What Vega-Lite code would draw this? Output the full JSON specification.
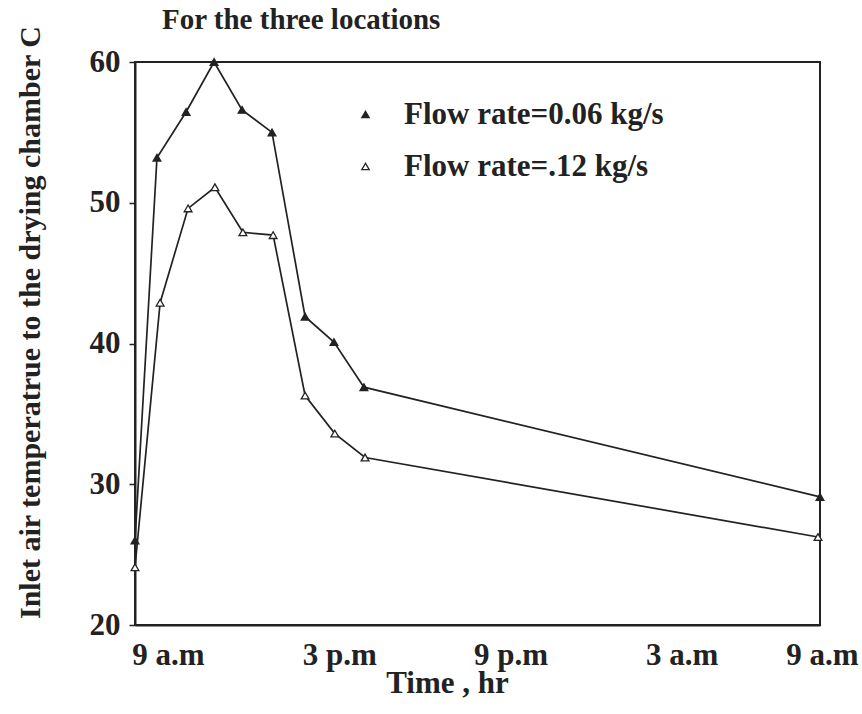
{
  "$schema": "https://vega.github.io/schema/vega-lite/v6.json",
  "autosize": {"type": "none"},
  "padding": {"left": 135, "top": 62, "right": 42, "bottom": 89},
  "width": 685,
  "height": 563,
  "background": "white",
  "title": {
    "text": "For the three locations",
    "anchor": "start",
    "frame": "group",
    "dx": 27,
    "dy": 37,
    "offset": 0,
    "baseline": "alphabetic",
    "font": "Liberation Serif",
    "fontSize": 29,
    "fontWeight": "bold",
    "color": "#222"
  },
  "data": {
    "values": [
      {"series": "Flow rate=0.06 kg/s", "hour": 0, "temp": 26.0},
      {"series": "Flow rate=0.06 kg/s", "hour": 0.77, "temp": 53.2},
      {"series": "Flow rate=0.06 kg/s", "hour": 1.79, "temp": 56.45},
      {"series": "Flow rate=0.06 kg/s", "hour": 2.77, "temp": 60.0},
      {"series": "Flow rate=0.06 kg/s", "hour": 3.75, "temp": 56.6},
      {"series": "Flow rate=0.06 kg/s", "hour": 4.8, "temp": 55.0},
      {"series": "Flow rate=0.06 kg/s", "hour": 5.96, "temp": 41.9},
      {"series": "Flow rate=0.06 kg/s", "hour": 6.97, "temp": 40.1},
      {"series": "Flow rate=0.06 kg/s", "hour": 8.02, "temp": 36.9},
      {"series": "Flow rate=0.06 kg/s", "hour": 24, "temp": 29.1},
      {"series": "Flow rate=.12 kg/s", "hour": 0, "temp": 24.1},
      {"series": "Flow rate=.12 kg/s", "hour": 0.88, "temp": 42.9},
      {"series": "Flow rate=.12 kg/s", "hour": 1.86, "temp": 49.6},
      {"series": "Flow rate=.12 kg/s", "hour": 2.8, "temp": 51.1},
      {"series": "Flow rate=.12 kg/s", "hour": 3.78, "temp": 47.9},
      {"series": "Flow rate=.12 kg/s", "hour": 4.84, "temp": 47.7},
      {"series": "Flow rate=.12 kg/s", "hour": 5.96, "temp": 36.3},
      {"series": "Flow rate=.12 kg/s", "hour": 7.0, "temp": 33.6},
      {"series": "Flow rate=.12 kg/s", "hour": 8.06, "temp": 31.9},
      {"series": "Flow rate=.12 kg/s", "hour": 23.93, "temp": 26.25}
    ]
  },
  "encoding": {
    "x": {
      "field": "hour",
      "type": "quantitative",
      "scale": {"domain": [0, 24], "nice": false, "zero": false},
      "axis": {
        "title": "Time , hr",
        "values": [0, 6, 12, 18, 24],
        "labelExpr": "datum.value == 0 ? '9 a.m' : datum.value == 6 ? '3 p.m' : datum.value == 12 ? '9 p.m' : datum.value == 18 ? '3 a.m' : '9 a.m'",
        "grid": false,
        "ticks": false,
        "tickSize": 0,
        "domainColor": "#222",
        "domainWidth": 2,
        "labelFont": "Liberation Serif",
        "labelFontSize": 31,
        "labelFontWeight": "bold",
        "labelColor": "#222",
        "labelPadding": 15,
        "labelBaseline": "top",
        "labelFlush": false,
        "labelOverlap": false,
        "labelOffset": {"condition": {"test": "datum.value < 24", "value": 33}, "value": 2},
        "titleFont": "Liberation Serif",
        "titleFontSize": 31,
        "titleFontWeight": "bold",
        "titleColor": "#222",
        "titleX": 312,
        "titleY": 58,
        "titleBaseline": "middle",
        "titleAlign": "center"
      }
    },
    "y": {
      "field": "temp",
      "type": "quantitative",
      "scale": {"domain": [20, 60], "nice": false, "zero": false},
      "axis": {
        "title": "Inlet air temperatrue to the drying chamber  C",
        "values": [20, 30, 40, 50, 60],
        "grid": false,
        "tickSize": 6,
        "tickColor": "#222",
        "tickWidth": 1.5,
        "domainColor": "#222",
        "domainWidth": 2,
        "labelFont": "Liberation Serif",
        "labelFontSize": 31,
        "labelFontWeight": "bold",
        "labelColor": "#222",
        "labelPadding": 9,
        "labelFlush": false,
        "labelOverlap": false,
        "titleFont": "Liberation Serif",
        "titleFontSize": 30,
        "titleFontWeight": "bold",
        "titleColor": "#222",
        "titleX": -105,
        "titleY": 260,
        "titleAngle": -90,
        "titleBaseline": "middle",
        "titleAlign": "center"
      }
    }
  },
  "layer": [
    {
      "mark": {"type": "line", "color": "#222", "strokeWidth": 1.7},
      "encoding": {"detail": {"field": "series", "type": "nominal"}}
    },
    {
      "mark": {"type": "point", "strokeWidth": 1.3, "opacity": 1, "filled": true},
      "encoding": {
        "shape": {
          "field": "series",
          "type": "nominal",
          "scale": {"domain": ["Flow rate=0.06 kg/s", "Flow rate=.12 kg/s"], "range": ["triangle-up", "triangle-up"]},
          "legend": {
            "title": null,
            "orient": "none",
            "legendX": 215,
            "legendY": 37,
            "padding": 0,
            "symbolSize": 55,
            "symbolStrokeWidth": 1.3,
            "labelOffset": 23,
            "rowPadding": 20,
            "labelFont": "Liberation Serif",
            "labelFontSize": 31,
            "labelFontWeight": "bold",
            "labelColor": "#222",
            "labelLimit": 400
          }
        },
        "fill": {
          "field": "series",
          "type": "nominal",
          "scale": {"domain": ["Flow rate=0.06 kg/s", "Flow rate=.12 kg/s"], "range": ["#222", "white"]},
          "legend": {
            "title": null,
            "orient": "none",
            "legendX": 215,
            "legendY": 37,
            "padding": 0,
            "symbolSize": 55,
            "symbolStrokeWidth": 1.3,
            "labelOffset": 23,
            "rowPadding": 20,
            "labelFont": "Liberation Serif",
            "labelFontSize": 31,
            "labelFontWeight": "bold",
            "labelColor": "#222",
            "labelLimit": 400
          }
        },
        "stroke": {
          "field": "series",
          "type": "nominal",
          "scale": {"domain": ["Flow rate=0.06 kg/s", "Flow rate=.12 kg/s"], "range": ["#222", "#222"]},
          "legend": {
            "title": null,
            "orient": "none",
            "legendX": 215,
            "legendY": 37,
            "padding": 0,
            "symbolSize": 55,
            "symbolStrokeWidth": 1.3,
            "labelOffset": 23,
            "rowPadding": 20,
            "labelFont": "Liberation Serif",
            "labelFontSize": 31,
            "labelFontWeight": "bold",
            "labelColor": "#222",
            "labelLimit": 400
          }
        },
        "size": {"value": 60}
      }
    }
  ],
  "config": {
    "view": {"stroke": "#222", "strokeWidth": 2}
  }
}
